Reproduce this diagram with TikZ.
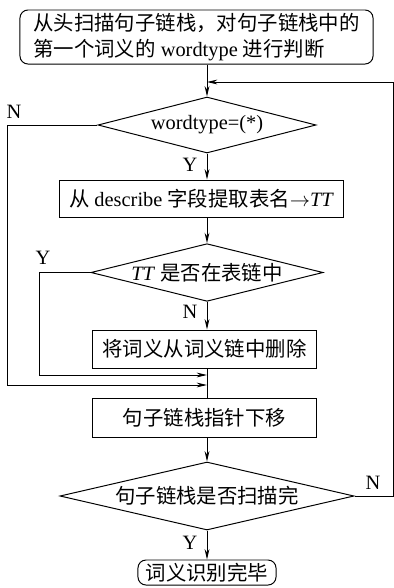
\documentclass[tikz,border=0pt]{standalone}
\usepackage{fontspec}
\setmainfont{Liberation Serif}
\newfontfamily\cjk{Noto Sans CJK SC}
\usetikzlibrary{shapes.geometric,arrows.meta}

\begin{document}
\begin{tikzpicture}[x=0.025cm, y=-0.025cm, line width=0.7pt,
    >={Stealth[length=0.26cm,width=0.12cm]},
    every node/.style={font=\fontsize{14.5}{18.4}\selectfont},
    box/.style={draw, rectangle, inner sep=0pt},
    rbox/.style={draw, rectangle, rounded corners=0.2cm, inner sep=0pt},
    dia/.style={draw, diamond, aspect=3.9, inner sep=0pt}]
    \useasboundingbox (0,0) rectangle (394,588);
    % Below nodes are the steps.
        \node[rbox, minimum width=8.825cm, minimum height=1.35cm, align=left] (start) at (196.5,37)
            {{\cjk 从头扫描句子链栈，对句子链栈中的}\\{\cjk 第一个词义的} wordtype {\cjk 进行判断}};
        \node[dia, minimum width=5.45cm, minimum height=1.4cm] (d1) at (207,125) {wordtype=(*)};
        \node[box, minimum width=7.075cm, minimum height=0.925cm] (b2) at (201.5,198.5)
            {{\cjk 从} describe {\cjk 字段提取表名}$\rightarrow$\textit{TT}};
        \node[dia, minimum width=5.8cm, minimum height=1.375cm] (d2) at (207,272.5)
            {\textit{TT} {\cjk 是否在表链中}};
        \node[box, minimum width=5.575cm, minimum height=0.95cm] (b3) at (204.5,349) {\cjk 将词义从词义链中删除};
        \node[box, minimum width=5.575cm, minimum height=0.975cm] (b4) at (204.5,417.5) {\cjk 句子链栈指针下移};
        \node[dia, minimum width=7.35cm, minimum height=1.7cm] (d3) at (207,496) {\cjk 句子链栈是否扫描完};
        \node[rbox, minimum width=3.45cm, minimum height=0.625cm] (stop) at (207,572.5) {\cjk 词义识别完毕};
    % Below nodes are the labels.
        \node (n1) at (14,112) {N};
        \node (y1) at (190,165) {Y};
        \node (y2) at (43,258) {Y};
        \node (n2) at (190,312) {N};
        \node (n3) at (373,483) {N};
        \node (y3) at (190,543) {Y};
    % This draws the main line.
        \draw[->] (d1.north |- start.south) -- (d1.north);
        \draw[->] (d1.south) -- (d1.south |- b2.north);
        \draw[->] (d2.north |- b2.south) -- (d2.north);
        \draw[->] (d2.south) -- (d2.south |- b3.north);
        \draw (d2.south |- b3.south) -- (d2.south |- b4.north);
        \draw[->] (d3.north |- b4.south) -- (d3.north);
        \draw[->] (d3.south) -- (stop.north);
    % The loops back.
        \coordinate (in1) at (207,82);
        \coordinate (in2) at (207,375);
        \coordinate (in3) at (207,385);
        \draw[->] (d1.west) -- ++(-90,0) |- (in3);
        \draw[->] (d2.west) -- ++(-51,0) |- (in2);
        \draw[->] (d3.east) -- ++(39,0) |- (in1);
\end{tikzpicture}
\end{document}
